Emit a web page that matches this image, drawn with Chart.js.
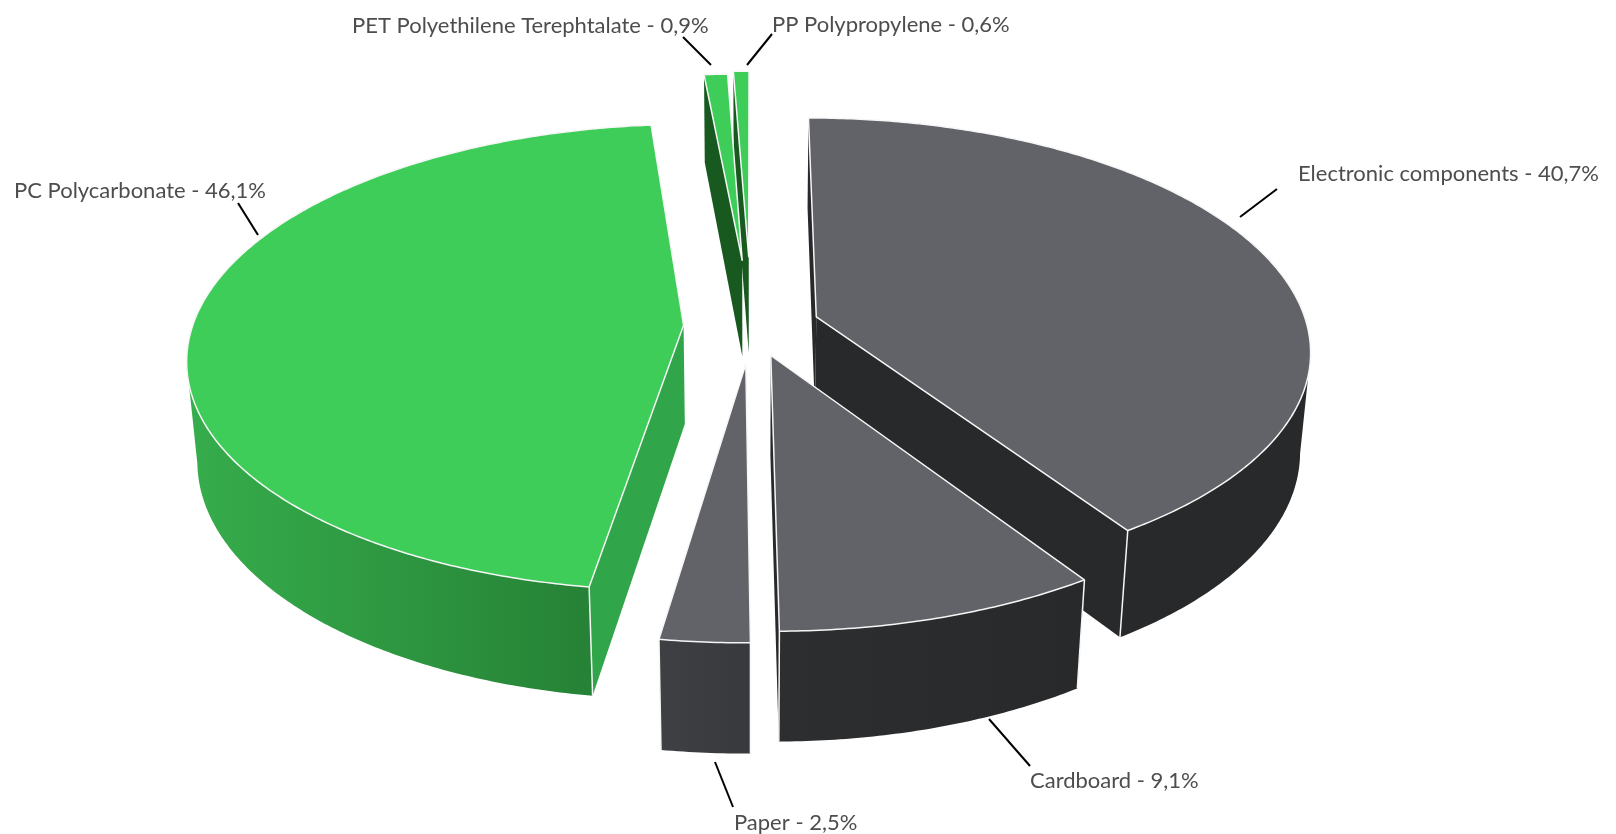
<!DOCTYPE html>
<html>
<head>
<meta charset="utf-8">
<title>Material composition</title>
<script src="https://cdn.jsdelivr.net/npm/chart.js@4"></script>
<style>
  html, body { margin: 0; padding: 0; background: #fff; }
  canvas { display: block; }
</style>
</head>
<body>
<canvas id="materialChart" width="1616" height="834"></canvas>
<script>
const materials = ['Electronic components', 'Cardboard', 'Paper', 'PC Polycarbonate', 'PET Polyethilene Terephtalate', 'PP Polypropylene'];
const shares = [40.7, 9.1, 2.5, 46.1, 0.9, 0.6];

const topColors = ['#626368', '#626368', '#626368', '#3dcd58', '#3dcd58', '#3dcd58'];
const cutColors = ['#28292b', '#28292b', '#3d3e42', '#31a549', '#17591f', '#17591f'];
const wallColors = [['#28292b', '#28292b'], ['#2d2e30', '#28292b'], ['#3f4043', '#38393c'], ['#36ad4c', '#268236'], ['#17591f', '#17591f'], ['#17591f', '#17591f']];
const explode = [68, 65, 80, 68, 147, 155];

// label text position, then the leader line drawn next to it
const labelLayout = [
  { x: 1298, y: 174, line: [1240, 217, 1277, 189] },
  { x: 1030, y: 781, line: [989, 719, 1030, 766] },
  { x: 734, y: 823, line: [715, 762, 733, 807] },
  { x: 14, y: 191, line: [258, 235, 238, 203] },
  { x: 352, y: 26, line: [711, 65, 683, 37] },
  { x: 772, y: 25, line: [747, 65, 772, 34] }
];

// camera of the tilted pie
const PLANE_R = 491;
const TILT = 0.466;
const PERSP = 0.000281;
const DEPTH = 0.0185;
const VANISH_Y = 5670;

function project(cx, cy, u, v, low) {
  const k = 1 / (1 - PERSP * v);
  const x = cx + u * k;
  const y = cy + TILT * v * k;
  if (!low) return { x, y };
  const d = DEPTH * k;
  return { x: x + (cx - x) * d, y: y + (VANISH_Y - y) * d };
}

function tracePath(ctx, pts) {
  ctx.beginPath();
  pts.forEach((p, i) => i ? ctx.lineTo(p.x, p.y) : ctx.moveTo(p.x, p.y));
  ctx.closePath();
}

function drawSlice(ctx, arc, i) {
  const scale = PLANE_R / arc.outerRadius;
  const r = arc.outerRadius * scale;
  const mid = (arc.startAngle + arc.endAngle) / 2;
  const off = arc.options.offset;
  const au = Math.cos(mid) * off;
  const av = Math.sin(mid) * off;
  const camV = 1 / PERSP;
  const cx = arc.x;
  const cy = arc.y;

  const steps = Math.max(2, Math.ceil((arc.endAngle - arc.startAngle) / 0.01));
  const rim = [];
  for (let s = 0; s <= steps; s++) {
    const a = arc.startAngle + (arc.endAngle - arc.startAngle) * s / steps;
    rim.push({ a, u: au + Math.cos(a) * r, v: av + Math.sin(a) * r });
  }
  const first = rim[0];
  const last = rim[steps];

  // outer wall, only the part that looks at the camera
  const seen = rim.filter(p => p.u * Math.cos(p.a) + (p.v - camV) * Math.sin(p.a) < 0);
  if (seen.length > 1) {
    const up = seen.map(p => project(cx, cy, p.u, p.v, false));
    const down = seen.map(p => project(cx, cy, p.u, p.v, true)).reverse();
    const xs = up.map(p => p.x);
    const grad = ctx.createLinearGradient(Math.min(...xs), 0, Math.max(...xs), 0);
    grad.addColorStop(0, wallColors[i][0]);
    grad.addColorStop(1, wallColors[i][1]);
    tracePath(ctx, up.concat(down));
    ctx.fillStyle = grad;
    ctx.fill();
  }

  // the two cut faces
  const faces = [
    { p: first, nu: Math.sin(first.a), nv: -Math.cos(first.a) },
    { p: last, nu: -Math.sin(last.a), nv: Math.cos(last.a) }
  ];
  faces.forEach(f => {
    if (au * f.nu + (av - camV) * f.nv >= 0) return;
    tracePath(ctx, [
      project(cx, cy, au, av, false),
      project(cx, cy, f.p.u, f.p.v, false),
      project(cx, cy, f.p.u, f.p.v, true),
      project(cx, cy, au, av, true)
    ]);
    ctx.fillStyle = cutColors[i];
    ctx.fill();
  });

  // corner edges
  ctx.strokeStyle = '#f6f6f6';
  ctx.lineWidth = 1.5;
  [first, last].forEach(p => {
    if (Math.sin(p.a) <= 0) return;
    const a = project(cx, cy, p.u, p.v, false);
    const b = project(cx, cy, p.u, p.v, true);
    ctx.beginPath();
    ctx.moveTo(a.x, a.y);
    ctx.lineTo(b.x, b.y);
    ctx.stroke();
  });

  // top face
  const top = [project(cx, cy, au, av, false)].concat(rim.map(p => project(cx, cy, p.u, p.v, false)));
  tracePath(ctx, top);
  ctx.fillStyle = arc.options.backgroundColor;
  ctx.fill();
  ctx.stroke();
}

const tiltedPie = {
  id: 'tiltedPie',
  beforeDatasetDraw(chart, args) {
    const ctx = chart.ctx;
    const arcs = args.meta.data;
    const order = arcs.map((arc, i) => i).sort((a, b) =>
      Math.sin((arcs[a].startAngle + arcs[a].endAngle) / 2) - Math.sin((arcs[b].startAngle + arcs[b].endAngle) / 2));
    ctx.save();
    ctx.lineJoin = 'round';
    order.forEach(i => drawSlice(ctx, arcs[i], i));
    ctx.restore();
    return false;
  },
  afterDraw(chart) {
    const ctx = chart.ctx;
    ctx.save();
    ctx.font = '22px Lato';
    ctx.textBaseline = 'middle';
    chart.data.labels.forEach((name, i) => {
      const place = labelLayout[i];
      const value = chart.data.datasets[0].data[i];
      ctx.fillStyle = '#4d4d4d';
      ctx.fillText(name + ' - ' + String(value).replace('.', ',') + '%', place.x, place.y);
      ctx.strokeStyle = '#000';
      ctx.lineWidth = 2;
      ctx.beginPath();
      ctx.moveTo(place.line[0], place.line[1]);
      ctx.lineTo(place.line[2], place.line[3]);
      ctx.stroke();
    });
    ctx.restore();
  }
};

new Chart(document.getElementById('materialChart'), {
  type: 'pie',
  data: {
    labels: materials,
    datasets: [{
      data: shares,
      backgroundColor: topColors,
      borderWidth: 0,
      offset: explode
    }]
  },
  options: {
    responsive: false,
    animation: false,
    layout: { padding: { right: 113, bottom: 182 } },
    plugins: {
      legend: { display: false },
      tooltip: { enabled: false }
    }
  },
  plugins: [tiltedPie]
});
</script>
</body>
</html>
